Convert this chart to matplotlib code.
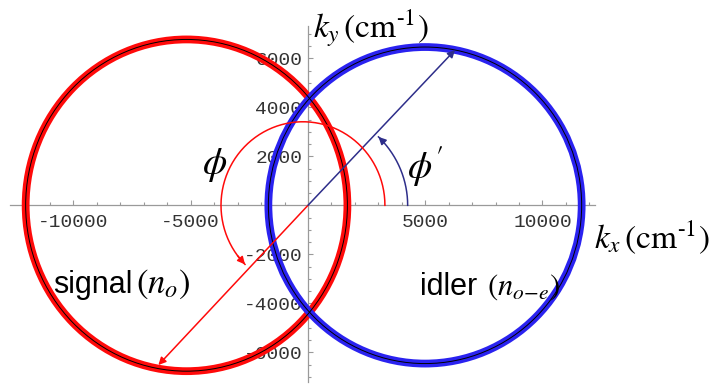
import numpy as np
import matplotlib.pyplot as plt
from matplotlib.patches import Ellipse

plt.rcParams['mathtext.fontset'] = 'stix'

# wave-vector rings: (centre kx, half-width, half-height) in cm^-1
SIGNAL_RING = (-5180, 6860, 6770)
IDLER_RING = (4990, 6680, 6460)

# arrow tips drawn from the origin
SIGNAL_TIP = (-6380, -6520)
IDLER_TIP = (6270, 6340)

# angle arcs: (centre kx, rx, ry, start deg, end deg)
PHI_ARC = (-215, 3495, 3410, 0, 225)
PHI_P_ARC = (0, 4250, 3950, 0, 45)

X_MAJOR = [-10000, -5000, 5000, 10000]
X_MINOR = [v for v in range(-12000, 12001, 1000) if v % 5000 and v]
Y_MAJOR = [-6000, -4000, -2000, 2000, 4000, 6000]
Y_MINOR = [v for v in range(-7000, 7001, 500) if v % 2000 and v]

RED = '#ff0a0a'
BLUE = '#2a22f0'
NAVY = '#2e2e8a'

fig = plt.figure(figsize=(7.15, 3.88), dpi=100)
ax = fig.add_axes([0, 0, 1, 1])
ax.set_xlim(-13134, 17356)
ax.set_ylim(-7457, 8380)

for s in ('top', 'right'):
    ax.spines[s].set_visible(False)
for s in ('left', 'bottom'):
    ax.spines[s].set_position(('data', 0))
    ax.spines[s].set_color('#9a9a9a')
    ax.spines[s].set_linewidth(0.9)
ax.spines['bottom'].set_bounds(-12700, 12250)
ax.spines['left'].set_bounds(-7230, 7300)

ax.set_xticks(X_MAJOR)
ax.set_xticks(X_MINOR, minor=True)
ax.set_yticks(Y_MAJOR)
ax.set_yticks(Y_MINOR, minor=True)
ax.set_xticklabels([str(v) for v in X_MAJOR])
ax.set_yticklabels([str(v) for v in Y_MAJOR])
for a in (ax.xaxis, ax.yaxis):
    for lab in a.get_ticklabels():
        lab.set_family('Liberation Mono')
ax.tick_params(which='both', direction='in', color='#9a9a9a', width=0.8,
               labelsize=14, labelcolor='#333333')
ax.tick_params(which='major', length=3.5)
ax.tick_params(which='minor', length=2.2)
ax.tick_params(axis='x', pad=6)
ax.tick_params(axis='y', pad=4)

# rings: thick coloured band with a thin black fit line on top
for (cx, rx, ry), col in ((SIGNAL_RING, RED), (IDLER_RING, BLUE)):
    ax.add_patch(Ellipse((cx, 0), 2 * rx, 2 * ry, fill=False, ec=col,
                         lw=5.6, zorder=3))
    ax.add_patch(Ellipse((cx, 0), 2 * rx, 2 * ry, fill=False, ec='black',
                         lw=0.7, zorder=4))

# radial arrows
for tip, col in ((SIGNAL_TIP, RED), (IDLER_TIP, NAVY)):
    ax.annotate('', xy=tip, xytext=(0, 0), zorder=5,
                arrowprops=dict(arrowstyle='-|>', color=col, lw=1.1,
                                mutation_scale=11, shrinkA=0, shrinkB=0))

# angle arcs with arrowheads at the end
for (cx, rx, ry, t0, t1), col in ((PHI_ARC, RED), (PHI_P_ARC, NAVY)):
    t = np.radians(np.linspace(t0, t1, 200))
    xs = cx + rx * np.cos(t)
    ys = ry * np.sin(t)
    ax.plot(xs, ys, color=col, lw=1.1, zorder=5)
    ax.annotate('', xy=(xs[-1], ys[-1]), xytext=(xs[-8], ys[-8]), zorder=5,
                arrowprops=dict(arrowstyle='-|>', color=col, lw=1.1,
                                mutation_scale=11, shrinkA=0, shrinkB=0))

ax.text(-3970, 1640, r'$\phi$', fontsize=28, ha='center', va='center')
ax.text(4990, 1560, r"$\phi'$", fontsize=28, ha='center', va='center')

ax.text(213, 7250, r'$k_y\,(\mathrm{cm}^{\text{-}1})$', fontsize=24,
        ha='left', va='center')
ax.text(12200, -1290, r'$k_x\,(\mathrm{cm}^{\text{-}1})$', fontsize=24,
        ha='left', va='center')

ax.text(-10870, -3580, 'signal', fontsize=22,
        family='Liberation Sans', ha='left', va='baseline', zorder=6)
ax.text(-7350, -3580, r'$(n_o)$', fontsize=25,
        ha='left', va='baseline', zorder=6)
ax.text(4780, -3660, 'idler', fontsize=22,
        family='Liberation Sans', ha='left', va='baseline', zorder=6)
ax.text(7650, -3660, r'$(n_{o\!-\!e})$', fontsize=22,
        ha='left', va='baseline', zorder=6)

fig.savefig('out.png', dpi=100)
